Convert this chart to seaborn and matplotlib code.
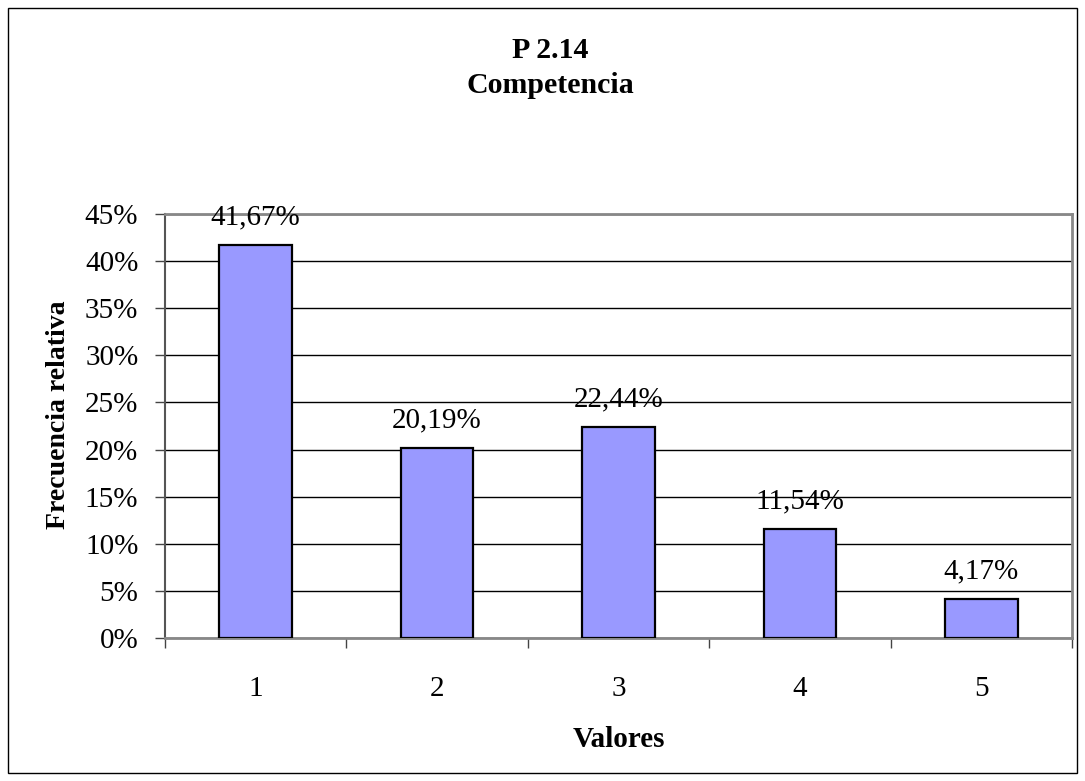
import matplotlib
matplotlib.use("Agg")
import matplotlib.pyplot as plt
import seaborn as sns
import pandas as pd
from matplotlib.ticker import FixedLocator, PercentFormatter

# datos
valores = ["1", "2", "3", "4", "5"]
frecuencia = [41.67, 20.19, 22.44, 11.54, 4.17]
etiquetas = ["41,67%", "20,19%", "22,44%", "11,54%", "4,17%"]

df = pd.DataFrame({"Valores": valores, "Frecuencia": frecuencia})

sns.set_style("white")
plt.rcParams['font.family'] = ['Liberation Serif', 'DejaVu Serif']
plt.rcParams['text.color'] = 'black'
plt.rcParams['axes.labelcolor'] = 'black'
plt.rcParams['xtick.color'] = 'black'
plt.rcParams['ytick.color'] = 'black'

W, H = 1085, 781
fig = plt.figure(figsize=(W / 100, H / 100), dpi=100)
ax = fig.add_axes([165 / W, 1 - 638 / H, (1072 - 165) / W, (638 - 214) / H])

sns.barplot(x="Valores", y="Frecuencia", data=df, color="#9999FF",
            edgecolor="black", linewidth=1.6, width=0.4, saturation=1, ax=ax, zorder=3)

ax.bar_label(ax.containers[0], labels=etiquetas, padding=10.5, fontsize=21, color="black")

ax.set_xlim(-0.5, 4.5)
ax.set_ylim(0, 45)
ax.yaxis.set_major_locator(FixedLocator(range(0, 46, 5)))
ax.yaxis.set_major_formatter(PercentFormatter(decimals=0))
ax.grid(axis="y", color="black", linewidth=1, zorder=0)
ax.set_axisbelow(True)

ax.xaxis.set_minor_locator(FixedLocator([-0.5, 0.5, 1.5, 2.5, 3.5, 4.5]))
ax.tick_params(axis="x", which="major", length=0, pad=27, labelsize=21, labelcolor="black")
ax.tick_params(axis="x", which="minor", direction="out", length=7.2, width=1, color="#444444", bottom=True)
ax.tick_params(axis="y", which="major", direction="out", length=7.2, width=1, color="#444444",
               left=True, labelsize=21, pad=12, labelcolor="black")

for side in ["top", "right", "bottom"]:
    ax.spines[side].set_color("#888888")
    ax.spines[side].set_linewidth(2)
ax.spines["left"].set_color("#555555")
ax.spines["left"].set_linewidth(1.5)

ax.set_xlabel("Valores", fontsize=21, fontweight="bold", va="baseline", color="black")
ax.xaxis.set_label_coords(0.5, (638 - 747) / 424)
ax.set_ylabel("Frecuencia relativa", fontsize=20, fontweight="bold", va="baseline", color="black")
ax.yaxis.set_label_coords((65 - 165) / 907, (638 - 414.5) / 424)

# titulo
fig.text(550 / W, 1 - 58 / H, "P 2.14", ha="center", va="baseline", fontsize=21.5, fontweight="bold")
fig.text(550 / W, 1 - 93 / H, "Competencia", ha="center", va="baseline", fontsize=21.5, fontweight="bold")

# borde de la figura
fig.patches.append(plt.Rectangle((8 / W, 1 - 773 / H), (1077 - 8) / W, (773 - 8) / H,
                                 transform=fig.transFigure, fill=False, edgecolor="black", linewidth=1))

fig.savefig("out.png", dpi=100)
